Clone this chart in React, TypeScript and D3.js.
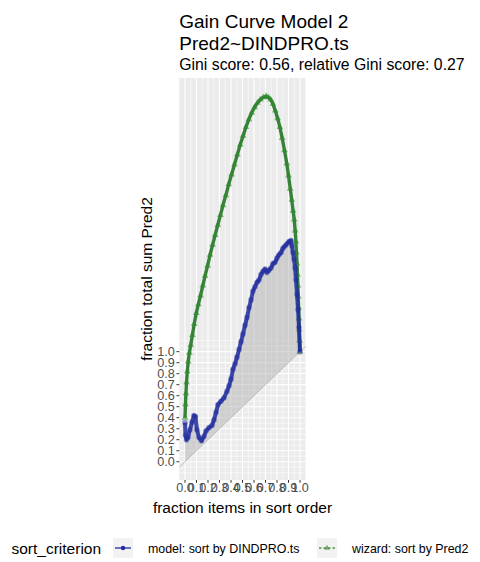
import React from "react";
import * as d3 from "d3";

// Gain curve: fraction of items (sorted) vs fraction of total sum of Pred2
const modelX = [
  0.0, 0.004, 0.013, 0.026, 0.043, 0.061, 0.078, 0.091, 0.104, 0.122, 0.143, 0.165, 0.183,
  0.209, 0.235, 0.252, 0.27, 0.287, 0.313, 0.339, 0.365, 0.383, 0.4, 0.417, 0.435, 0.452,
  0.47, 0.487, 0.504, 0.522, 0.539, 0.557, 0.574, 0.591, 0.609, 0.626, 0.643, 0.661, 0.678,
  0.696, 0.713, 0.73, 0.748, 0.765, 0.783, 0.8, 0.817, 0.835, 0.852, 0.87, 0.887, 0.904,
  0.922, 0.93, 0.939, 0.948, 0.957, 0.965, 0.974, 0.983, 0.991, 1.0,
];
const modelY = [
  0.355, 0.24, 0.2, 0.22, 0.29, 0.36, 0.42, 0.41, 0.29, 0.22, 0.19, 0.23, 0.28,
  0.31, 0.33, 0.38, 0.45, 0.52, 0.55, 0.58, 0.64, 0.69, 0.75, 0.84, 0.89, 0.95,
  1.02, 1.09, 1.16, 1.24, 1.31, 1.4, 1.47, 1.55, 1.59, 1.63, 1.65, 1.7, 1.73,
  1.75, 1.72, 1.74, 1.76, 1.8, 1.81, 1.85, 1.88, 1.9, 1.94, 1.96, 1.98, 2.0,
  2.01, 1.96, 1.9, 1.84, 1.76, 1.65, 1.52, 1.38, 1.22, 1.0,
];
const wizardX = [
  0.0, 0.004, 0.008, 0.013, 0.02, 0.028, 0.038, 0.05, 0.064, 0.08, 0.098, 0.116, 0.135,
  0.155, 0.175, 0.196, 0.218, 0.24, 0.262, 0.285, 0.308, 0.33, 0.355, 0.38, 0.405, 0.43,
  0.455, 0.48, 0.505, 0.53, 0.555, 0.58, 0.605, 0.63, 0.655, 0.68, 0.705, 0.725, 0.745,
  0.765, 0.785, 0.805, 0.825, 0.845, 0.865, 0.885, 0.9, 0.915, 0.928, 0.94, 0.95, 0.958,
  0.964, 0.969, 0.974, 0.978, 0.982, 0.985, 0.988, 0.991, 0.993, 0.996, 1.0,
];
const wizardY = [
  0.4, 0.52, 0.62, 0.72, 0.82, 0.91, 0.99, 1.06, 1.15, 1.25, 1.35, 1.43, 1.51,
  1.6, 1.69, 1.78, 1.88, 1.97, 2.06, 2.15, 2.24, 2.33, 2.42, 2.52, 2.61, 2.7,
  2.79, 2.88, 2.96, 3.04, 3.11, 3.17, 3.22, 3.26, 3.29, 3.31, 3.32, 3.31, 3.29,
  3.25, 3.19, 3.12, 3.04, 2.94, 2.83, 2.71, 2.6, 2.48, 2.38, 2.28, 2.2, 2.1,
  2.0, 1.9, 1.8, 1.7, 1.6, 1.5, 1.4, 1.3, 1.2, 1.1, 1.0,
];
const breaks = [0, 0.1, 0.2, 0.3, 0.4, 0.5, 0.6, 0.7, 0.8, 0.9, 1.0];
const tickLabels = ["0.0", "0.1", "0.2", "0.3", "0.4", "0.5", "0.6", "0.7", "0.8", "0.9", "1.0"];
const minorX = [0.05, 0.15, 0.25, 0.35, 0.45, 0.55, 0.65, 0.75, 0.85, 0.95, 1.05];
const minorY = [-0.1, -0.05, 0.05, 0.15, 0.25, 0.35, 0.45, 0.55, 0.65, 0.75, 0.85, 0.95, 1.05, 1.1];
const seriesLabels = ["model: sort by DINDPRO.ts", "wizard: sort by Pred2"];
const titleLines = ["Gain Curve Model 2", "Pred2~DINDPRO.ts"];
const subtitle = "Gini score: 0.56, relative Gini score: 0.27";

const W = 480;
const H = 562;
const FONT = "'Liberation Sans', Arial, Helvetica, sans-serif";
const MODEL_COLOR = "#1f2b9e";
const WIZARD_COLOR = "#0a660f";

export default function App() {
  const model = modelX.map((x, i) => ({ x, y: modelY[i] }));
  const wizard = wizardX.map((x, i) => ({ x, y: wizardY[i] }));

  const panel = { left: 179.25, right: 305.75, top: 78, bottom: 480 };
  const yMax = d3.max([...modelY, ...wizardY]) as number;
  const yMin = 0;
  const yPad = (yMax - yMin) * 0.05;
  const x = d3.scaleLinear().domain([-0.05, 1.05]).range([panel.left, panel.right]);
  const y = d3.scaleLinear().domain([yMin - yPad, yMax + yPad]).range([panel.bottom, panel.top]);

  const line = d3.line<{ x: number; y: number }>().x((d) => x(d.x)).y((d) => y(d.y));
  const ribbon = d3
    .area<{ x: number; y: number }>()
    .x((d) => x(d.x))
    .y0((d) => y(d.x))
    .y1((d) => y(d.y));
  const tri = d3.symbol().type(d3.symbolTriangle).size(20)() as string;
  const triKey = d3.symbol().type(d3.symbolTriangle).size(14)() as string;

  const pw = panel.right - panel.left;
  const ph = panel.bottom - panel.top;

  return (
    <svg width={W} height={H} style={{ position: "absolute", left: 0, top: 0, background: "#fff" }} fontFamily={FONT}>
      <defs>
        <clipPath id="panel-clip">
          <rect x={panel.left} y={panel.top} width={pw} height={ph} />
        </clipPath>
      </defs>

      {/* titles */}
      <text x={panel.left} y={28} fontSize={19} fill="#000">{titleLines[0]}</text>
      <text x={panel.left} y={50} fontSize={19} fill="#000">{titleLines[1]}</text>
      <text x={panel.left} y={70} fontSize={15.8} fill="#000">{subtitle}</text>

      {/* panel background and grid */}
      <rect x={panel.left} y={panel.top} width={pw} height={ph} fill="#EBEBEB" />
      <g clipPath="url(#panel-clip)">
        {minorY.map((v) => (
          <line key={"my" + v} x1={panel.left} x2={panel.right} y1={y(v)} y2={y(v)} stroke="#fff" strokeWidth={0.55} />
        ))}
        {minorX.map((v) => (
          <line key={"mx" + v} x1={x(v)} x2={x(v)} y1={panel.top} y2={panel.bottom} stroke="#fff" strokeWidth={0.55} />
        ))}
        {breaks.map((v) => (
          <line key={"gy" + v} x1={panel.left} x2={panel.right} y1={y(v)} y2={y(v)} stroke="#fff" strokeWidth={1.1} />
        ))}
        {breaks.map((v) => (
          <line key={"gx" + v} x1={x(v)} x2={x(v)} y1={panel.top} y2={panel.bottom} stroke="#fff" strokeWidth={1.1} />
        ))}

        {/* area between model curve and diagonal */}
        <path d={ribbon(model) as string} fill="#aaaaaa" fillOpacity={0.45} />
        {/* diagonal reference */}
        <line x1={x(-0.05)} y1={y(-0.05)} x2={x(1.05)} y2={y(1.05)} stroke="#bdbdbd" strokeWidth={1} />

        {/* wizard curve */}
        <path d={line(wizard) as string} fill="none" stroke={WIZARD_COLOR} strokeWidth={3.4} strokeOpacity={0.8} strokeLinejoin="round" />
        {wizard.map((d, i) => (
          <path key={"w" + i} d={tri} transform={`translate(${x(d.x)},${y(d.y)})`} fill="#2f8a2a" fillOpacity={0.6} />
        ))}

        {/* model curve */}
        <path d={line(model) as string} fill="none" stroke={MODEL_COLOR} strokeWidth={4} strokeOpacity={0.85} strokeLinejoin="round" />
        {model.map((d, i) => (
          <circle key={"m" + i} cx={x(d.x)} cy={y(d.y)} r={2.8} fill={MODEL_COLOR} fillOpacity={0.45} />
        ))}
      </g>

      {/* y axis */}
      {breaks.map((v, i) => (
        <g key={"yt" + v}>
          <line x1={panel.left - 2.8} x2={panel.left} y1={y(v)} y2={y(v)} stroke="#333" strokeWidth={1} />
          <text x={panel.left - 4.5} y={y(v)} dy="0.35em" textAnchor="end" fontSize={12.6} fill="#4D4D4D">
            {tickLabels[i]}
          </text>
        </g>
      ))}
      {/* x axis */}
      {breaks.map((v, i) => (
        <g key={"xt" + v}>
          <line x1={x(v)} x2={x(v)} y1={panel.bottom} y2={panel.bottom + 2.8} stroke="#333" strokeWidth={1} />
          <text x={x(v)} y={panel.bottom + 12} textAnchor="middle" fontSize={12.6} fill="#4D4D4D">
            {tickLabels[i]}
          </text>
        </g>
      ))}
      <text x={(panel.left + panel.right) / 2} y={513} textAnchor="middle" fontSize={15.5} fill="#000">
        fraction items in sort order
      </text>
      <text
        transform={`translate(151.5,${(panel.top + panel.bottom) / 2}) rotate(-90)`}
        textAnchor="middle"
        fontSize={15.5}
        fill="#000"
      >
        fraction total sum Pred2
      </text>

      {/* legend */}
      <text x={11.5} y={553.5} fontSize={15.5} fill="#000">sort_criterion</text>
      <g transform="translate(113,538)">
        <rect width={20} height={20} fill="#F2F2F2" />
        <line x1={2} x2={18} y1={10} y2={10} stroke={MODEL_COLOR} strokeWidth={1.3} />
        <circle cx={10} cy={10} r={2.2} fill={MODEL_COLOR} />
      </g>
      <text x={148} y={552.5} fontSize={12.4} fill="#000">{seriesLabels[0]}</text>
      <g transform="translate(317,538)">
        <rect width={20} height={20} fill="#F2F2F2" />
        <line x1={2} x2={18} y1={10} y2={10} stroke={WIZARD_COLOR} strokeWidth={1.3} strokeDasharray="2.5,2" strokeOpacity={0.7} />
        <path d={triKey} transform="translate(10,10)" fill="#3f8f36" fillOpacity={0.7} />
      </g>
      <text x={352} y={552.5} fontSize={12.4} fill="#000">{seriesLabels[1]}</text>
    </svg>
  );
}
